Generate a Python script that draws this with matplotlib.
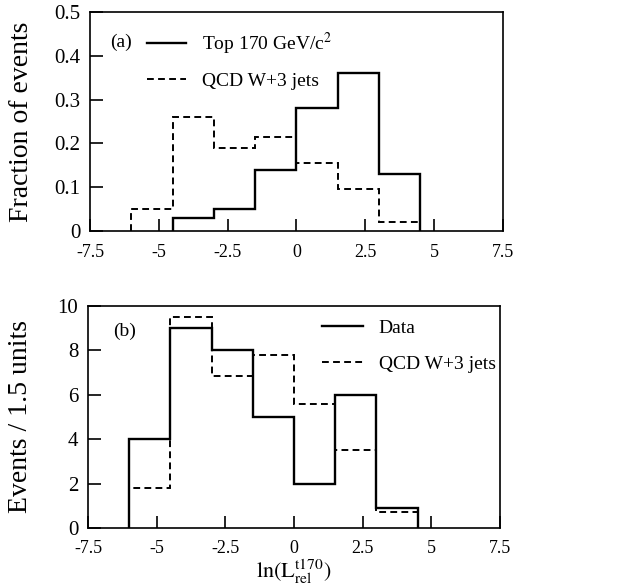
import numpy as np
import matplotlib
matplotlib.use("Agg")
import matplotlib.pyplot as plt

plt.rcParams['font.family'] = ['Liberation Serif', 'DejaVu Serif']
plt.rcParams['mathtext.fontset'] = 'stix'
plt.rcParams['axes.unicode_minus'] = False

# bin edges, width 1.5
edges_a_top = [-4.5, -3, -1.5, 0, 1.5, 3, 4.5]
top170 = [0.03, 0.05, 0.14, 0.28, 0.36, 0.13]
edges_a_qcd = [-6, -4.5, -3, -1.5, 0, 1.5, 3, 4.5]
qcd_a = [0.05, 0.26, 0.19, 0.215, 0.155, 0.095, 0.02]

edges_b = [-6, -4.5, -3, -1.5, 0, 1.5, 3, 4.5]
data_b = [4, 9, 8, 5, 2, 6, 0.9]
qcd_b = [1.8, 9.5, 6.85, 7.8, 5.6, 3.5, 0.7]

xticks = [-7.5, -5, -2.5, 0, 2.5, 5, 7.5]
xticklabels = ['-7.5', '-5', '-2.5', '0', '2.5', '5', '7.5']

fig = plt.figure(figsize=(6.18, 5.86), dpi=100)
ax1 = fig.add_axes([0.1456, 0.6058, 0.668, 0.3737])
ax2 = fig.add_axes([0.1424, 0.099, 0.6667, 0.379])

dash = (0, (3.5, 2.2))

ax1.stairs(top170, edges_a_top, baseline=0, color='black', lw=1.7, label='Top 170 GeV/c$^2$')
ax1.stairs(qcd_a, edges_a_qcd, baseline=0, color='black', lw=1.4, linestyle=dash, label='QCD W+3 jets')
ax1.set_ylim(0, 0.5)
ax1.set_yticks([0, 0.1, 0.2, 0.3, 0.4, 0.5])
ax1.set_yticklabels(['0', '0.1', '0.2', '0.3', '0.4', '0.5'])
ax1.set_ylabel('Fraction of events', fontsize=20)
ax1.yaxis.set_label_coords(-0.135, 0.5)
ax1.text(-6.75, 0.43, '(a)', fontsize=14, va='center')
ax1.legend(loc='upper left', bbox_to_anchor=(0.115, 0.96), frameon=False, fontsize=14,
           handlelength=2.0, handletextpad=0.8, labelspacing=0.8, borderpad=0)

ax2.stairs(data_b, edges_b, baseline=0, color='black', lw=1.7, label='Data')
ax2.stairs(qcd_b, edges_b, baseline=0, color='black', lw=1.4, linestyle=dash, label='QCD W+3 jets')
ax2.set_ylim(0, 10)
ax2.set_yticks([0, 2, 4, 6, 8, 10])
ax2.set_ylabel('Events / 1.5 units', fontsize=20)
ax2.yaxis.set_label_coords(-0.133, 0.5)
ax2.set_xlabel(r'$\mathrm{ln(L_{rel}^{t170})}$', fontsize=16, labelpad=0)
ax2.text(-6.6, 8.85, '(b)', fontsize=14, va='center')
ax2.legend(loc='upper left', bbox_to_anchor=(0.545, 0.985), frameon=False, fontsize=14,
           handlelength=2.1, handletextpad=0.8, labelspacing=0.95, borderpad=0)

for ax in (ax1, ax2):
    ax.set_xlim(-7.5, 7.5)
    ax.set_xticks(xticks)
    ax.set_xticklabels(xticklabels)
    ax.tick_params(direction='in', length=9, width=1.2)
    ax.tick_params(axis='x', labelsize=13, pad=9)
    ax.tick_params(axis='y', labelsize=15, pad=7)
    for s in ax.spines.values():
        s.set_linewidth(1.2)

fig.savefig('out.png', dpi=100)
